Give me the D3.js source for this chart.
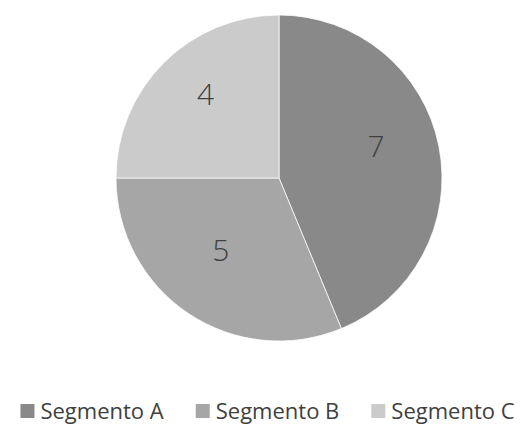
<!DOCTYPE html>
<html>
<head>
<meta charset="utf-8">
<script src="https://cdn.jsdelivr.net/npm/d3@7"></script>
<style>
  body { margin: 0; background: #fff; }
  svg { display: block; font-family: "Open Sans", "Liberation Sans", sans-serif; }
</style>
</head>
<body>
<div id="chart"></div>
<script>
const categories = ['Segmento A', 'Segmento B', 'Segmento C'];
const values = [7, 5, 4];
const colors = ['#898989', '#a6a6a6', '#cbcbcb'];

const width = 525;
const height = 425;
const cx = 279;
const cy = 178;
const radius = 163;

const svg = d3.select('#chart')
  .append('svg')
  .attr('width', width)
  .attr('height', height);

const data = categories.map((c, i) => ({ name: c, value: values[i], color: colors[i] }));

const pie = d3.pie().sort(null).value(d => d.value);
const arc = d3.arc().innerRadius(0).outerRadius(radius);
const labelArc = d3.arc().innerRadius(radius * 0.62).outerRadius(radius * 0.62);
const labelShift = -12; // excel puts the data labels a bit above the centroid

const g = svg.append('g').attr('transform', `translate(${cx},${cy})`);

g.selectAll('path')
  .data(pie(data))
  .join('path')
  .attr('d', arc)
  .attr('fill', d => d.data.color)
  .attr('stroke', '#fff')
  .attr('stroke-width', 0.75);

g.selectAll('text')
  .data(pie(data))
  .join('text')
  .attr('transform', d => {
    const [x, y] = labelArc.centroid(d);
    return `translate(${x - 2},${y + labelShift})`;
  })
  .attr('text-anchor', 'middle')
  .attr('dy', '0.36em')
  .style('font-size', '30px')
  .style('font-weight', 300)
  .style('fill', '#404040')
  .text(d => d.data.value);

// legend, laid out from the measured text widths and centred
const legendY = 411;
const box = 14;
const boxGap = 6;
const itemGap = 32;
const legend = svg.append('g');
const items = legend.selectAll('g')
  .data(data)
  .join('g');

items.append('rect')
  .attr('x', 0)
  .attr('y', -box / 2)
  .attr('width', box)
  .attr('height', box)
  .attr('fill', d => d.color);

items.append('text')
  .attr('x', box + boxGap)
  .attr('y', 0)
  .attr('dy', '0.36em')
  .style('font-size', '22px')
  .style('fill', '#404040')
  .text(d => d.name);

let offset = 0;
const starts = [];
items.each(function () {
  const w = d3.select(this).select('text').node().getComputedTextLength();
  starts.push(offset);
  offset += box + boxGap + w + itemGap;
});
const total = offset - itemGap;
const legendX = (width - total) / 2 + 5;
items.attr('transform', (d, i) => `translate(${legendX + starts[i]},${legendY})`);
</script>
</body>
</html>
